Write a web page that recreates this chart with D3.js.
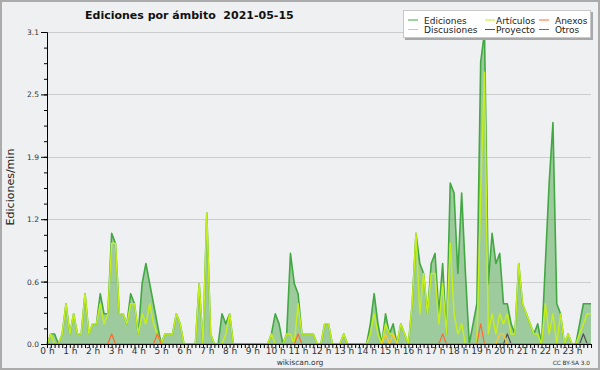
<!DOCTYPE html>
<html>
  <head>
    <meta charset="UTF-8" />
    <title>Ediciones por ámbito 2021-05-15</title>
    <style>
      body { margin: 0; background: #fff; }
      text { font-family: "DejaVu Sans", sans-serif; }
    </style>
  </head>
  <body>
    <script src="https://cdn.jsdelivr.net/npm/d3@7"></script>
    <script>
      // edits per minute, one value per 10 minute slot (144 slots, 00:00 -> 23:50)
      var ediciones = [
        0, 0.1, 0.1, 0, 0.1, 0.4, 0.1, 0.3, 0.1, 0.1, 0.5, 0.1,
        0.2, 0.2, 0.5, 0.3, 0.3, 1.1, 1.0, 0.3, 0.3, 0.2, 0.5, 0.4,
        0.1, 0.6, 0.8, 0.6, 0.4, 0.2, 0, 0.1, 0.1, 0.1, 0.3, 0.2,
        0, 0, 0, 0, 0.6, 0, 1.3, 0.1, 0, 0, 0.3, 0.2,
        0.3, 0, 0, 0, 0, 0, 0, 0, 0, 0, 0, 0.1,
        0.3, 0.2, 0, 0.1, 0.9, 0.6, 0.5, 0.1, 0.1, 0.1, 0.1, 0,
        0, 0.2, 0.2, 0, 0, 0, 0.1, 0, 0, 0, 0, 0,
        0, 0.2, 0.5, 0.2, 0, 0.3, 0.1, 0.2, 0, 0.2, 0.1, 0,
        0.4, 1.1, 0.8, 0.7, 0.3, 0.8, 0.9, 0.3, 0.8, 0.1, 1.6, 1.5,
        0.7, 1.5, 0.7, 0, 0.2, 0.4, 2.8, 3.1, 0.6, 1.1, 0.8, 0.9,
        0.4, 0.4, 0.2, 0.1, 0.8, 0.4, 0.3, 0.2, 0.1, 0.2, 0, 0.8,
        1.6, 2.2, 0.4, 0.3, 0, 0.1, 0, 0, 0.2, 0.4, 0.4, 0.4
      ];
      var articulos = [
        0, 0.1, 0, 0, 0.1, 0.4, 0.1, 0.3, 0.1, 0.1, 0.5, 0.1,
        0.2, 0.2, 0.4, 0.2, 0.3, 1.0, 1.0, 0.3, 0.3, 0.2, 0.4, 0.4,
        0.1, 0.3, 0.2, 0.4, 0.2, 0.1, 0, 0.1, 0.1, 0.1, 0.3, 0.2,
        0, 0, 0, 0, 0.6, 0, 1.3, 0.1, 0, 0, 0, 0.1,
        0.3, 0, 0, 0, 0, 0, 0, 0, 0, 0, 0, 0.1,
        0, 0, 0, 0.1, 0.1, 0, 0.4, 0.1, 0.1, 0.1, 0.1, 0,
        0, 0.2, 0.2, 0, 0, 0, 0.1, 0, 0, 0, 0, 0,
        0, 0.1, 0.3, 0.1, 0, 0.2, 0.1, 0.1, 0, 0.2, 0.1, 0,
        0.4, 1.1, 0.3, 0.7, 0.3, 0.7, 0.7, 0.2, 0.6, 0.1, 1.0, 0.3,
        0.1, 0.2, 0, 0, 0, 0, 1.5, 2.7, 0.1, 0.3, 0.1, 0.3,
        0.2, 0.3, 0.1, 0.1, 0.8, 0.4, 0.3, 0.2, 0.1, 0.1, 0, 0.4,
        0.1, 0.3, 0, 0.3, 0, 0.1, 0, 0, 0.1, 0.2, 0.3, 0.3
      ];
      var anexos = [
        0, 0, 0, 0, 0, 0, 0, 0, 0, 0, 0, 0,
        0, 0, 0, 0, 0, 0.1, 0, 0, 0, 0, 0, 0,
        0, 0, 0, 0, 0, 0.1, 0, 0, 0, 0, 0, 0,
        0, 0, 0, 0, 0, 0, 0, 0, 0, 0, 0, 0,
        0, 0, 0, 0, 0, 0, 0, 0, 0, 0, 0, 0,
        0, 0, 0, 0, 0, 0, 0.1, 0, 0, 0, 0, 0,
        0, 0, 0, 0, 0, 0, 0, 0, 0, 0, 0, 0,
        0, 0, 0, 0, 0, 0, 0, 0, 0, 0, 0, 0,
        0, 0, 0, 0, 0, 0, 0, 0, 0.1, 0, 0, 0,
        0, 0, 0, 0, 0, 0, 0.2, 0, 0, 0, 0, 0,
        0, 0, 0, 0, 0, 0, 0, 0, 0, 0, 0, 0,
        0, 0, 0, 0, 0, 0, 0, 0, 0, 0, 0, 0
      ];
      var discusiones = [
        0, 0, 0, 0, 0, 0, 0, 0, 0, 0, 0, 0,
        0, 0, 0, 0, 0, 0, 0, 0, 0, 0, 0, 0,
        0, 0, 0, 0, 0, 0, 0, 0, 0, 0, 0, 0,
        0, 0, 0, 0, 0, 0, 0, 0, 0, 0, 0, 0,
        0, 0, 0, 0, 0, 0, 0, 0, 0, 0, 0, 0,
        0, 0, 0, 0, 0, 0, 0, 0, 0, 0, 0, 0,
        0, 0, 0, 0, 0, 0, 0, 0, 0, 0, 0, 0,
        0, 0, 0, 0, 0, 0.1, 0, 0.1, 0, 0, 0, 0,
        0, 0, 0, 0, 0, 0, 0, 0, 0, 0, 0, 0,
        0, 0, 0, 0, 0, 0, 0, 0, 0, 0, 0, 0.1,
        0.1, 0, 0, 0, 0, 0, 0, 0, 0, 0, 0, 0,
        0, 0, 0, 0, 0, 0, 0, 0, 0, 0, 0, 0
      ];
      var proyecto = [
        0, 0, 0, 0, 0, 0, 0, 0, 0, 0, 0, 0,
        0, 0, 0, 0, 0, 0, 0, 0, 0, 0, 0, 0,
        0, 0, 0, 0, 0, 0, 0, 0, 0, 0, 0, 0,
        0, 0, 0, 0, 0, 0, 0, 0, 0, 0, 0, 0,
        0, 0, 0, 0, 0, 0, 0, 0, 0, 0, 0, 0,
        0, 0, 0, 0, 0, 0, 0, 0, 0, 0, 0, 0,
        0, 0, 0, 0, 0, 0, 0, 0, 0, 0, 0, 0,
        0, 0, 0, 0, 0, 0, 0, 0, 0, 0, 0, 0,
        0, 0, 0, 0, 0, 0, 0, 0, 0, 0, 0, 0,
        0, 0, 0, 0, 0, 0, 0, 0, 0, 0, 0, 0,
        0, 0.1, 0, 0, 0, 0, 0, 0, 0, 0, 0, 0,
        0, 0, 0, 0, 0, 0, 0, 0, 0, 0.1, 0, 0
      ];
      var otros = [
        0, 0, 0, 0, 0, 0, 0, 0, 0, 0, 0, 0,
        0, 0, 0, 0, 0, 0, 0, 0, 0, 0, 0, 0,
        0, 0, 0, 0, 0, 0, 0, 0, 0, 0, 0, 0,
        0, 0, 0, 0, 0, 0, 0, 0, 0, 0, 0, 0,
        0, 0, 0, 0, 0, 0, 0, 0, 0, 0, 0, 0,
        0, 0, 0, 0, 0, 0, 0, 0, 0, 0, 0, 0,
        0, 0, 0, 0, 0, 0, 0, 0, 0, 0, 0, 0,
        0, 0, 0, 0, 0, 0, 0, 0, 0, 0, 0, 0,
        0, 0, 0, 0, 0, 0, 0, 0, 0, 0, 0, 0,
        0, 0, 0, 0, 0, 0, 0, 0, 0, 0, 0, 0,
        0, 0, 0, 0, 0, 0, 0, 0, 0, 0, 0, 0,
        0, 0, 0, 0, 0, 0, 0, 0, 0, 0, 0, 0
      ];

      var hourLabels = ["0 h", "1 h", "2 h", "3 h", "4 h", "5 h", "6 h", "7 h",
        "8 h", "9 h", "10 h", "11 h", "12 h", "13 h", "14 h", "15 h",
        "16 h", "17 h", "18 h", "19 h", "20 h", "21 h", "22 h", "23 h"];
      var yMax = 3.1;
      var yTicks = [0, 0.62, 1.24, 1.86, 2.48, 3.1];

      var legendNames = ["Ediciones", "Artículos", "Anexos", "Discusiones", "Proyecto", "Otros"];
      var legendColors = ["#42a842", "#c4ee1c", "#ff6a30", "#ffc72a", "#505050", "#9a44f2"];

      var width = 600, height = 370;
      var plotLeft = 47, plotRight = 591, plotTop = 32, plotBottom = 344;

      var svg = d3.select("body")
                  .append("svg")
                  .attr("width", width)
                  .attr("height", height);

      svg.append("rect")
         .attr("x", 1).attr("y", 1)
         .attr("width", width - 2).attr("height", height - 2)
         .attr("fill", "#eff0f1")
         .attr("stroke", "#ababab")
         .attr("stroke-width", 2);

      var x = d3.scaleLinear().domain([0, ediciones.length - 1]).range([plotLeft, plotRight]);
      var y = d3.scaleLinear().domain([0, yMax]).range([plotBottom, plotTop]);

      // grid
      svg.append("g")
         .selectAll("line")
         .data(yTicks.slice(1))
         .enter()
         .append("line")
         .attr("x1", plotLeft).attr("x2", plotRight)
         .attr("y1", function(d) { return Math.round(y(d)) + 0.5; })
         .attr("y2", function(d) { return Math.round(y(d)) + 0.5; })
         .attr("stroke", "#cccccc");

      // filled total
      var area = d3.area()
                   .x(function(d, i) { return x(i); })
                   .y0(y(0))
                   .y1(function(d) { return y(d); });

      svg.append("path")
         .datum(ediciones)
         .attr("d", area)
         .attr("fill", "#4ca64c")
         .attr("fill-opacity", 0.5);

      var line = d3.line()
                   .x(function(d, i) { return x(i); })
                   .y(function(d) { return y(d); });

      var drawOrder = [
        { values: ediciones, color: legendColors[0], w: 1.6 },
        { values: articulos, color: legendColors[1], w: 1.5 },
        { values: otros, color: legendColors[5], w: 1.2 },
        { values: proyecto, color: legendColors[4], w: 1.2 },
        { values: discusiones, color: legendColors[3], w: 1.2 },
        { values: anexos, color: legendColors[2], w: 1.2 }
      ];

      svg.append("g")
         .selectAll("path")
         .data(drawOrder)
         .enter()
         .append("path")
         .attr("d", function(d) { return line(d.values); })
         .attr("fill", "none")
         .attr("stroke", function(d) { return d.color; })
         .attr("stroke-width", function(d) { return d.w; })
         .attr("stroke-linejoin", "round");

      // y axis
      var minor = [];
      for (var k = 0; k <= 20; k++) minor.push(k * yMax / 20);

      svg.append("g")
         .attr("transform", "translate(" + plotLeft + ",0)")
         .call(d3.axisLeft(y).tickValues(minor).tickSize(3).tickFormat("").tickSizeOuter(0));

      var yAxis = svg.append("g")
         .attr("transform", "translate(" + plotLeft + ",0)")
         .call(d3.axisLeft(y).tickValues(yTicks).tickSize(6).tickPadding(2)
                 .tickFormat(d3.format(".1f")).tickSizeOuter(0));
      yAxis.selectAll("text")
           .attr("font-family", "DejaVu Sans")
           .attr("font-size", "7.5px")
           .attr("fill", "#333");

      // x axis, one tick per slot
      var xAxis = svg.append("g")
         .attr("transform", "translate(0," + plotBottom + ")")
         .call(d3.axisBottom(x)
                 .tickValues(d3.range(ediciones.length))
                 .tickSize(4)
                 .tickPadding(0)
                 .tickSizeOuter(0)
                 .tickFormat(function(i) { return i % 6 === 0 ? hourLabels[i / 6] : ""; }));
      xAxis.selectAll("text")
           .attr("font-family", "DejaVu Sans")
           .attr("font-size", "9px")
           .attr("fill", "#333");
      svg.selectAll(".domain").attr("stroke", "#000");
      svg.selectAll(".tick line").attr("stroke", "#000");

      // y title
      svg.append("text")
         .attr("transform", "translate(14,187) rotate(-90)")
         .attr("text-anchor", "middle")
         .attr("font-size", "11px")
         .attr("fill", "#222")
         .text("Ediciones/min");

      // title
      svg.append("text")
         .attr("x", 85)
         .attr("y", 19)
         .attr("font-size", "11px")
         .attr("font-weight", "bold")
         .attr("fill", "#111")
         .style("white-space", "pre")
         .text("Ediciones por ámbito  2021-05-15");

      // legend
      var legend = svg.append("g");
      legend.append("rect")
            .attr("x", 405).attr("y", 12)
            .attr("width", 188).attr("height", 28)
            .attr("fill", "#a8a8a8");
      legend.append("rect")
            .attr("x", 403.5).attr("y", 10.5)
            .attr("width", 187).attr("height", 27)
            .attr("fill", "#ffffff")
            .attr("stroke", "#c8c8c8");

      var colLine = [408, 485, 539];
      var colText = [424, 496, 555];
      var rowY = [20, 29.5];

      var items = legend.selectAll("g.item")
            .data(legendNames)
            .enter()
            .append("g")
            .attr("class", "item");
      items.append("line")
           .attr("x1", function(d, i) { return colLine[i % 3]; })
           .attr("x2", function(d, i) { return colLine[i % 3] + 10; })
           .attr("y1", function(d, i) { return rowY[Math.floor(i / 3)]; })
           .attr("y2", function(d, i) { return rowY[Math.floor(i / 3)]; })
           .attr("stroke", function(d, i) { return legendColors[i]; });
      items.append("text")
           .attr("x", function(d, i) { return colText[i % 3]; })
           .attr("y", function(d, i) { return rowY[Math.floor(i / 3)] + 3.5; })
           .attr("font-size", "9px")
           .attr("fill", "#222")
           .text(function(d) { return d; });

      // footer
      svg.append("text")
         .attr("x", 300).attr("y", 365)
         .attr("text-anchor", "middle")
         .attr("font-size", "7.5px")
         .attr("fill", "#333")
         .text("wikiscan.org");
      svg.append("text")
         .attr("x", 590).attr("y", 365)
         .attr("text-anchor", "end")
         .attr("font-size", "5.8px")
         .attr("fill", "#333")
         .text("CC BY-SA 3.0");
    </script>
  </body>
</html>
